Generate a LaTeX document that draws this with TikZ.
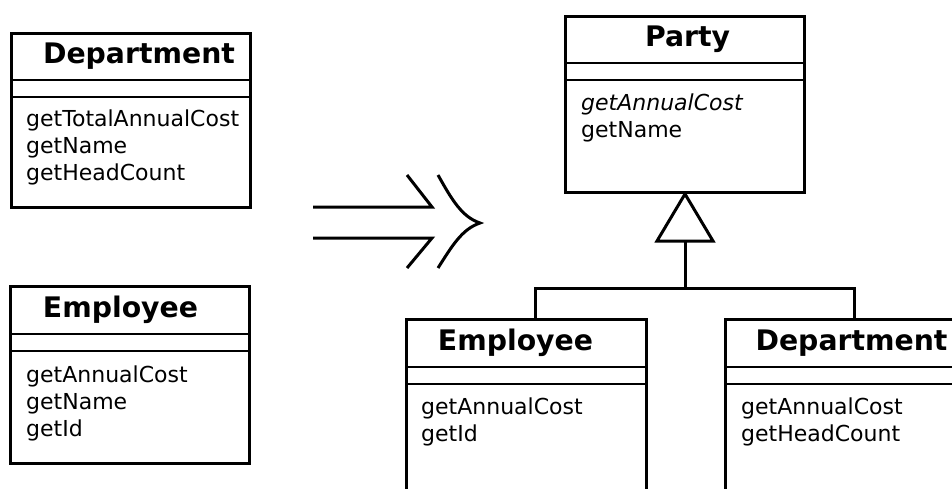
\documentclass[tikz,border=0pt]{standalone}
\usepackage{fontspec}
\setmainfont{DejaVu Sans}

\begin{document}
\begin{tikzpicture}[x=1pt,y=-1pt,line join=miter,
		class_box/.style={draw=black,line width=3pt,anchor=north west,minimum width=239pt,inner sep=0pt,
			path picture={
				\draw[line width=2pt] ([yshift=-47pt]path picture bounding box.north west) -- ([yshift=-47pt]path picture bounding box.north east);
				\draw[line width=2pt] ([yshift=-64pt]path picture bounding box.north west) -- ([yshift=-64pt]path picture bounding box.north east);}},
		title_text/.style={anchor=base,inner sep=0pt,font=\bfseries\fontsize{28.3}{34}\selectfont},
		method_text/.style={anchor=base west,inner sep=0pt,font=\fontsize{22}{27}\selectfont},
		edge_style/.style={draw=black,line width=3pt}]

		\useasboundingbox (0,0) rectangle (952,489);
		\clip (0,0) rectangle (952,489);

		% before
		\node[class_box,minimum height=174pt] (dept1_box) at (10,32) {};
		\node[title_text] (dept1_title) at (139,64) {Department};
		\node[method_text] (dept1_m1) at (26,127) {getTotalAnnualCost};
		\node[method_text] (dept1_m2) at (26,154) {getName};
		\node[method_text] (dept1_m3) at (26,181) {getHeadCount};

		\node[class_box,minimum height=177pt] (emp1_box) at (9,285) {};
		\node[title_text] (emp1_title) at (120.5,317) {Employee};
		\node[method_text] (emp1_m1) at (26,382) {getAnnualCost};
		\node[method_text] (emp1_m2) at (26,409) {getName};
		\node[method_text] (emp1_m3) at (26,436) {getId};

		% refactoring arrow
		\draw[edge_style] (313,207) -- (432,207) -- (407,175);
		\draw[edge_style] (313,238) -- (432,238) -- (407,268);
		\draw[edge_style] (438,175) .. controls (452,200) and (462,217) .. (480,223)
			.. controls (462,229) and (452,246) .. (438,268);

		% after
		\node[class_box,minimum height=176pt] (party_box) at (564,15) {};
		\node[title_text] (party_title) at (687.5,47) {Party};
		\node[method_text] (party_m1) at (581,111) {\itshape getAnnualCost};
		\node[method_text] (party_m2) at (581,138) {getName};

		\node[class_box,minimum width=240pt,minimum height=200pt] (emp2_box) at (405,318) {};
		\node[title_text] (emp2_title) at (515.5,350) {Employee};
		\node[method_text] (emp2_m1) at (421,414) {getAnnualCost};
		\node[method_text] (emp2_m2) at (421,441) {getId};

		\node[class_box,minimum width=240pt,minimum height=200pt] (dept2_box) at (724,318) {};
		\node[title_text] (dept2_title) at (851.5,350) {Department};
		\node[method_text] (dept2_m1) at (741,414) {getAnnualCost};
		\node[method_text] (dept2_m2) at (741,441) {getHeadCount};

		% generalization
		\coordinate (tri_base) at ([yshift=-47pt]party_box.south);
		\coordinate (bus) at ([yshift=-94pt]party_box.south);
		\draw[edge_style] (party_box.south) -- ([xshift=-28pt]tri_base) -- ([xshift=28pt]tri_base) -- cycle;
		\draw[edge_style] (tri_base) -- (bus);
		\draw[edge_style] ([xshift=9pt]emp2_box.north) |- (bus) -| ([xshift=9pt]dept2_box.north);

\end{tikzpicture}
\end{document}
